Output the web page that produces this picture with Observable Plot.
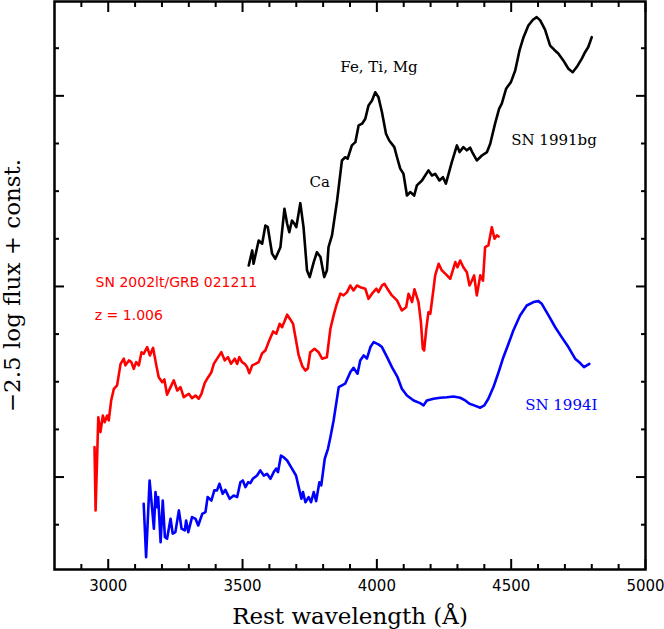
<!DOCTYPE html>
<html><head><meta charset="utf-8">
<script src="https://cdn.jsdelivr.net/npm/d3@7"></script>
<script src="https://cdn.jsdelivr.net/npm/@observablehq/plot@0.6"></script>
<style>body{margin:0;background:#fff}#chart svg{display:block}</style>
</head><body><div id="chart"></div>
<script>
// SN 1991bg (black)
const bgWave = [3523,3536,3541,3560,3573,3585,3594,3610,3622,3641,3656,3666,3674,3684,3693,3700,3715,3727,3740,3750,3765,3777,3790,3804,3814,3820,3833,3852,3870,3882,3891,3907,3920,3932,3945,3957,3969,3982,3994,4006,4019,4034,4046,4065,4075,4087,4099,4112,4124,4139,4149,4168,4192,4205,4217,4233,4246,4257,4279,4298,4308,4322,4335,4347,4357,4372,4391,4410,4422,4440,4455,4465,4481,4499,4515,4531,4546,4564,4581,4595,4608,4626,4645,4660,4676,4694,4713,4729,4744,4763,4775,4787,4800];
const bgMag = [0.890,0.811,0.881,0.759,0.776,0.680,0.689,0.828,0.855,0.794,0.592,0.671,0.715,0.654,0.671,0.689,0.563,0.689,0.916,0.951,0.872,0.820,0.846,0.951,0.916,0.794,0.732,0.549,0.339,0.322,0.330,0.260,0.243,0.155,0.146,0.120,0.050,0.024,-0.019,0.007,0.086,0.199,0.234,0.269,0.322,0.382,0.409,0.523,0.505,0.523,0.470,0.444,0.391,0.418,0.409,0.444,0.427,0.461,0.348,0.260,0.295,0.269,0.286,0.272,0.301,0.339,0.313,0.295,0.251,0.146,0.068,0.041,-0.037,-0.072,-0.133,-0.238,-0.308,-0.369,-0.399,-0.413,-0.396,-0.347,-0.264,-0.242,-0.221,-0.186,-0.142,-0.124,-0.151,-0.195,-0.229,-0.256,-0.308];

// SN 2002lt / GRB 021211 (red)
const ltWave = [2949,2953,2963,2971,2980,2987,2996,3002,3011,3021,3033,3046,3058,3064,3077,3086,3095,3104,3114,3124,3132,3145,3155,3167,3179,3188,3201,3209,3219,3232,3244,3257,3269,3281,3300,3312,3325,3337,3347,3359,3372,3384,3393,3409,3421,3434,3446,3457,3471,3480,3488,3498,3508,3517,3525,3536,3548,3560,3573,3585,3597,3614,3626,3638,3647,3656,3666,3678,3688,3697,3709,3723,3734,3743,3752,3768,3783,3796,3814,3827,3839,3849,3864,3876,3889,3901,3913,3926,3938,3957,3969,3982,3998,4006,4019,4028,4038,4056,4075,4093,4109,4118,4131,4140,4155,4164,4171,4176,4184,4192,4199,4211,4217,4230,4242,4261,4273,4279,4292,4300,4310,4322,4335,4345,4354,4362,4372,4385,4395,4403,4415,4428,4438,4447,4453];
const ltMag = [1.843,2.175,1.686,1.764,1.677,1.712,1.677,1.703,1.598,1.537,1.519,1.406,1.379,1.414,1.388,1.397,1.432,1.397,1.414,1.345,1.353,1.318,1.362,1.322,1.414,1.476,1.502,1.488,1.568,1.528,1.493,1.546,1.528,1.581,1.563,1.586,1.572,1.589,1.563,1.507,1.476,1.450,1.406,1.371,1.345,1.388,1.371,1.406,1.379,1.406,1.371,1.397,1.406,1.423,1.455,1.414,1.406,1.397,1.350,1.336,1.292,1.236,1.248,1.196,1.214,1.184,1.148,1.173,1.196,1.266,1.362,1.420,1.441,1.430,1.345,1.327,1.345,1.379,1.371,1.222,1.152,1.100,1.038,1.047,1.030,0.995,1.021,0.995,1.004,1.012,1.065,1.038,1.012,1.030,0.995,0.986,1.009,1.047,1.073,1.126,1.109,1.038,1.082,1.015,1.082,1.187,1.327,1.336,1.222,1.135,1.143,1.012,0.942,0.881,0.916,0.942,0.960,0.933,0.872,0.899,0.864,0.899,0.925,0.995,0.969,0.942,1.047,0.942,0.969,0.794,0.785,0.689,0.750,0.732,0.738];

// SN 1994I (blue)
const iWave = [3132,3141,3154,3170,3176,3182,3186,3195,3203,3211,3219,3232,3240,3250,3263,3273,3285,3290,3298,3312,3325,3335,3350,3362,3370,3384,3395,3405,3414,3426,3436,3452,3467,3480,3492,3501,3511,3521,3529,3538,3554,3566,3579,3591,3604,3616,3625,3632,3643,3653,3666,3684,3699,3709,3719,3725,3734,3746,3755,3765,3774,3786,3793,3806,3818,3827,3839,3858,3870,3882,3901,3913,3928,3938,3951,3963,3976,3988,4006,4019,4038,4056,4077,4093,4112,4137,4161,4174,4186,4211,4236,4261,4285,4310,4329,4345,4362,4385,4400,4415,4434,4453,4471,4490,4508,4533,4558,4583,4601,4614,4639,4664,4688,4713,4738,4757,4771,4791];
const iMag = [2.140,2.420,2.018,2.271,2.079,2.158,2.105,2.342,2.123,2.315,2.324,2.219,2.297,2.289,2.175,2.271,2.280,2.228,2.289,2.210,2.219,2.254,2.193,2.184,2.105,2.123,2.070,2.070,2.035,2.088,2.067,2.114,2.097,2.105,2.027,2.018,2.053,2.027,2.032,2.009,1.992,1.965,1.992,1.983,2.009,1.974,1.956,1.974,1.887,1.896,1.913,1.956,1.992,2.053,2.114,2.079,2.132,2.105,2.132,2.079,2.126,2.027,2.044,1.904,1.852,1.791,1.703,1.528,1.519,1.510,1.450,1.427,1.458,1.388,1.362,1.379,1.318,1.292,1.304,1.318,1.371,1.423,1.476,1.537,1.572,1.598,1.612,1.624,1.598,1.589,1.584,1.581,1.577,1.584,1.598,1.615,1.624,1.636,1.624,1.589,1.528,1.450,1.371,1.301,1.231,1.152,1.100,1.082,1.077,1.091,1.152,1.214,1.266,1.318,1.379,1.402,1.423,1.406];

// Tick values
const xMajorTicks = [3000, 3500, 4000, 4500, 5000];
const xMinorTicks = [2900,3100,3200,3300,3400,3600,3700,3800,3900,4100,4200,4300,4400,4600,4700,4800,4900];
const yMajorTicks = [0, 1, 2];
const yMinorTicks = [-0.25, 0.25, 0.5, 0.75, 1.25, 1.5, 1.75, 2.25];

// Annotations (wavelength, magnitude anchors)
const blackLabelText = ["Fe, Ti, Mg", "Ca", "SN 1991bg"];
const blackLabelWave = [3864, 3749, 4500];
const blackLabelMag = [-0.150, 0.454, 0.235];
const blueLabelText = ["SN 1994I"];
const blueLabelWave = [4552];
const blueLabelMag = [1.625];
const redLabelText = ["SN 2002lt/GRB 021211", "z = 1.006"];
const redLabelWave = [2953, 2950];
const redLabelMag = [0.981, 1.152];

const xTitle = "Rest wavelength (Å)";
const yTitle = "\u22122.5 log flux + const.";

const rows = (w, m) => w.map((x, i) => ({w: x, m: m[i]}));
const labels = (t, w, m) => t.map((s, i) => ({t: s, w: w[i], m: m[i]}));

const blank = () => "";
const tickOpts = {strokeWidth: 2, tickFormat: blank, label: null};

const chart = Plot.plot({
  width: 664,
  height: 629,
  marginLeft: 54,
  marginRight: 19,
  marginTop: 1,
  marginBottom: 60,
  x: {domain: [2800, 5000]},
  y: {domain: [-0.495, 2.485], reverse: true},
  style: {fontFamily: "DejaVu Sans", fontSize: "15px", color: "black", background: "white"},
  marks: [
    Plot.axisX(xMajorTicks, {anchor: "bottom", tickSize: -10, tickPadding: 21, strokeWidth: 2, tickFormat: d => String(d), label: null, fontSize: 15, fontFamily: "DejaVu Sans"}),
    Plot.axisX(xMinorTicks, {anchor: "bottom", tickSize: -5, ...tickOpts}),
    Plot.axisX(xMajorTicks, {anchor: "top", tickSize: -10, ...tickOpts}),
    Plot.axisX(xMinorTicks, {anchor: "top", tickSize: -5, ...tickOpts}),
    Plot.axisY(yMajorTicks, {anchor: "left", tickSize: -10, ...tickOpts}),
    Plot.axisY(yMinorTicks, {anchor: "left", tickSize: -5, ...tickOpts}),
    Plot.axisY(yMajorTicks, {anchor: "right", tickSize: -10, ...tickOpts}),
    Plot.axisY(yMinorTicks, {anchor: "right", tickSize: -5, ...tickOpts}),
    Plot.frame({stroke: "black", strokeWidth: 2.5}),
    Plot.line(rows(bgWave, bgMag), {x: "w", y: "m", stroke: "black", strokeWidth: 2.6}),
    Plot.line(rows(ltWave, ltMag), {x: "w", y: "m", stroke: "#ff0000", strokeWidth: 2.6}),
    Plot.line(rows(iWave, iMag), {x: "w", y: "m", stroke: "#0000ff", strokeWidth: 2.6}),
    Plot.text(labels(blackLabelText, blackLabelWave, blackLabelMag), {x: "w", y: "m", text: "t", textAnchor: "start", lineAnchor: "middle", fill: "black", fontFamily: "DejaVu Serif", fontSize: 15}),
    Plot.text(labels(blueLabelText, blueLabelWave, blueLabelMag), {x: "w", y: "m", text: "t", textAnchor: "start", lineAnchor: "middle", fill: "#0000ff", fontFamily: "DejaVu Serif", fontSize: 15}),
    Plot.text(labels(redLabelText, redLabelWave, redLabelMag), {x: "w", y: "m", text: "t", textAnchor: "start", lineAnchor: "middle", fill: "#ff0000", fontFamily: "DejaVu Sans", fontSize: 14}),
    Plot.text([xTitle], {text: d => d, frameAnchor: "bottom", dy: 47, lineAnchor: "middle", textAnchor: "middle", fill: "black", fontFamily: "DejaVu Serif", fontSize: 23}),
    Plot.text([yTitle], {text: d => d, frameAnchor: "left", dx: -42, rotate: -90, lineAnchor: "middle", textAnchor: "middle", fill: "black", fontFamily: "DejaVu Serif", fontSize: 23})
  ]
});
document.getElementById("chart").appendChild(chart);
</script>
</body></html>
